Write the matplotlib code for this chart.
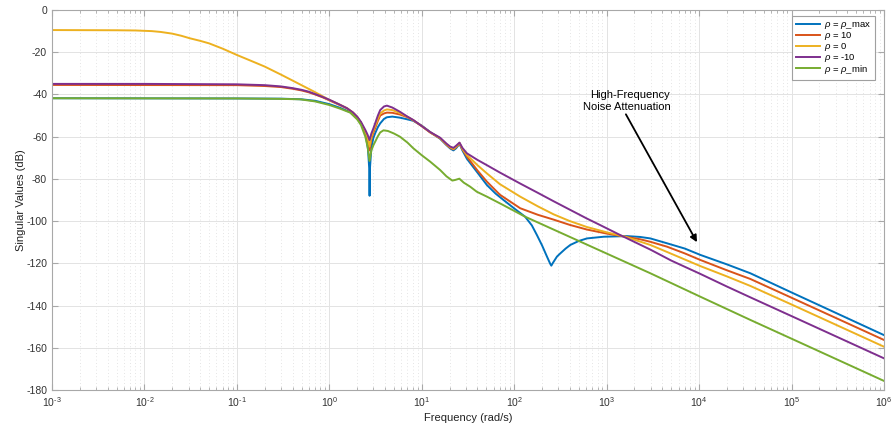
import numpy as np
import matplotlib.pyplot as plt
from matplotlib.ticker import FixedLocator, FixedFormatter, LogLocator, NullFormatter

plt.rcParams['font.family'] = ['Liberation Sans', 'DejaVu Sans']
plt.rcParams['mathtext.fontset'] = 'custom'
plt.rcParams['mathtext.rm'] = 'Liberation Sans'
plt.rcParams['mathtext.it'] = 'Liberation Sans:italic'
plt.rcParams['axes.unicode_minus'] = False

# singular value traces (rad/s, dB) for each scheduling parameter value
w_max = [1e-3, 0.1, 0.3, 0.5, 0.7, 1.0, 1.3, 1.68, 2.0, 2.2, 2.45, 2.62, 2.70, 2.725, 2.75, 2.85, 3.0,
         3.13, 3.35, 3.55, 3.9, 4.2, 4.8, 5.8, 7.0, 8.1, 10, 12.3, 15.8, 18.5, 20.3, 22.0, 23.5,
         25.6, 27.5, 30.8, 40, 50.6, 63, 76.6, 100, 131, 155, 176, 200, 226, 245, 252, 262, 290,
         315, 360, 404, 500, 612, 927, 1660, 2300, 2966, 4490, 7000, 1.03e4, 2e4, 3.58e4, 1e5, 1e6]
db_max = [-41.8, -41.9, -42.0, -42.3, -43.0, -44.6, -46.3, -48.4, -51.0, -53.5, -58.0, -66.0, -75.0, -88.0, -75.0, -65.0, -60.5,
          -58.4, -55.5, -53.7, -51.6, -50.8, -50.5, -51.0, -51.8, -52.5, -54.8, -57.8, -61.0, -64.0, -65.6, -66.5, -65.5,
          -63.4, -66.5, -70.5, -77.0, -82.9, -87.0, -90.0, -94.0, -97.9, -102.0, -106.6, -111.5, -116.8, -120.2, -121.1, -119.8, -116.8,
          -115.3, -113.0, -111.3, -109.4, -108.2, -107.4, -107.1, -107.5, -108.2, -110.5, -113.0, -116.0, -120.5, -124.7, -133.8, -154.0]

w_p10 = [1e-3, 0.1, 0.2, 0.3, 0.4, 0.5, 0.6, 0.7, 0.85, 1.0, 1.25, 1.55, 1.8, 2.0, 2.2, 2.45, 2.6, 2.72,
         2.85, 3.0, 3.13, 3.35, 3.55, 3.9, 4.2, 4.8, 5.8, 7.0, 8.1, 10, 12.3, 15.8, 18.5, 20.3, 22.0,
         23.5, 25.6, 27.5, 30.8, 40, 50.6, 70, 116, 180, 267, 400, 612, 1000, 1590, 2300, 2970, 4490, 7000,
         1.03e4, 2e4, 3.58e4, 1e5, 1e6]
db_p10 = [-35.5, -35.6, -36.0, -36.5, -37.3, -38.1, -39.0, -40.0, -41.4, -42.8, -44.7, -46.6, -48.7, -50.8, -53.5, -58.0, -61.5, -66.5,
          -61.0, -58.0, -56.0, -52.5, -50.0, -49.0, -48.6, -48.7, -49.5, -50.8, -52.3, -55.0, -58.0, -60.8, -63.8, -65.3, -66.0,
          -65.0, -63.2, -66.0, -69.5, -76.0, -81.3, -87.5, -93.9, -97.0, -99.3, -101.8, -104.0, -105.9, -107.4, -108.6, -109.8, -112.1, -115.3,
          -118.4, -123.3, -127.4, -136.3, -156.3]

w_0 = [1e-3, 0.005, 0.008, 0.012, 0.015, 0.02, 0.025, 0.031, 0.04, 0.05, 0.07, 0.1, 0.15, 0.2, 0.306, 0.5,
       0.7, 1.0, 1.25, 1.55, 1.8, 2.0, 2.2, 2.45, 2.6, 2.72, 2.85, 3.0, 3.13, 3.35, 3.55, 3.9, 4.2, 4.8,
       5.8, 7.0, 8.1, 10, 12.3, 15.8, 18.5, 20.3, 22.0, 23.5, 25.6, 27.5, 30.8, 40, 50.6, 70, 116, 180,
       267, 400, 612, 1000, 1590, 2970, 4490, 1.03e4, 2e4, 3.58e4, 1e5, 1e6]
db_0 = [-9.5, -9.6, -9.7, -10.0, -10.4, -11.2, -12.2, -13.4, -14.6, -15.8, -18.3, -21.3, -24.5, -26.8, -30.8, -35.6,
        -38.9, -42.6, -44.5, -46.5, -48.6, -50.6, -53.3, -57.5, -60.5, -64.7, -60.0, -57.0, -55.0, -51.5, -49.0, -47.6, -47.1, -47.4,
        -48.8, -50.6, -52.2, -55.0, -57.9, -60.7, -63.6, -65.0, -65.8, -64.8, -63.0, -65.8, -68.7, -73.5, -77.4, -82.5, -88.4, -93.0,
        -96.8, -100.0, -102.8, -105.3, -107.4, -111.3, -114.6, -121.3, -126.2, -130.7, -139.5, -159.5]

w_m10 = [1e-3, 0.01, 0.1, 0.2, 0.3, 0.4, 0.5, 0.6, 0.7, 0.85, 1.0, 1.25, 1.55, 1.8, 2.0, 2.2, 2.45, 2.6,
         2.72, 2.85, 3.0, 3.13, 3.35, 3.55, 3.9, 4.2, 4.8, 5.8, 7.0, 8.1, 10, 12.3, 15.8, 18.5, 20.3,
         22.0, 23.5, 25.6, 27.5, 30.8, 40, 50.6, 70, 116, 180, 267, 400, 612, 853, 1400, 2970, 5000,
         1.03e4, 2e4, 3.58e4, 1e5, 1e6]
db_m10 = [-35.0, -35.0, -35.2, -35.6, -36.2, -37.0, -37.8, -38.7, -39.8, -41.2, -42.5, -44.5, -46.5, -48.5, -50.5, -53.0, -56.8, -59.2,
          -61.6, -58.5, -56.0, -53.7, -50.0, -47.4, -45.7, -45.3, -46.2, -48.2, -50.5, -52.1, -55.0, -57.8, -60.5, -63.3, -64.7,
          -65.3, -64.3, -62.8, -65.3, -67.9, -71.0, -73.5, -77.0, -82.2, -86.6, -90.6, -94.6, -98.8, -101.9, -106.6, -113.5, -118.7,
          -125.0, -131.0, -136.1, -145.0, -165.0]

w_min = [1e-3, 0.1, 0.3, 0.48, 0.7, 1.0, 1.3, 1.68, 2.0, 2.2, 2.45, 2.6, 2.72, 2.85, 3.0, 3.13, 3.35, 3.55,
         3.85, 4.3, 5.0, 5.8, 7.0, 8.1, 10, 12.3, 15.8, 18.5, 21.4, 23.0, 25.5, 28.5, 33.4, 39.4, 50.6,
         76.0, 131, 853, 2966, 1.03e4, 3.58e4, 1e5, 1e6]
db_min = [-41.8, -41.9, -42.1, -42.3, -43.3, -45.0, -46.7, -48.6, -51.8, -54.5, -60.0, -65.0, -71.5, -66.5, -64.0, -62.4, -59.8, -58.0,
          -57.0, -57.3, -58.5, -60.0, -62.8, -65.5, -68.8, -71.8, -75.8, -78.8, -80.8, -80.5, -79.9, -81.8, -83.7, -86.1, -88.4,
          -92.4, -97.9, -114.0, -124.7, -135.8, -146.8, -155.7, -175.7]

labels = [r'$\rho$ = $\rho$_max', r'$\rho$ = 10', r'$\rho$ = 0', r'$\rho$ = -10', r'$\rho$ = $\rho$_min']
colors = ['#0072BD', '#D95319', '#EDB120', '#7E2F8E', '#77AC30']
series = [(w_max, db_max), (w_p10, db_p10), (w_0, db_0), (w_m10, db_m10), (w_min, db_min)]

decades = np.arange(-3, 7)
xtick_labels = [r'$10^{\text{%d}}$' % d for d in decades]
ytick_values = np.arange(-180, 1, 20)

fig = plt.figure(figsize=(8.93, 4.28), dpi=100)
ax = fig.add_axes([52 / 893, 1 - 390 / 428, 832 / 893, 380 / 428])

for (w, db), c, lab in zip(series, colors, labels):
    ax.semilogx(w, db, color=c, lw=1.4, label=lab)

ax.set_xlim(1e-3, 1e6)
ax.set_ylim(-180, 0)
ax.xaxis.set_major_locator(FixedLocator(10.0 ** decades))
ax.xaxis.set_major_formatter(FixedFormatter(xtick_labels))
ax.xaxis.set_minor_locator(LogLocator(base=10, subs=np.arange(2, 10), numticks=20))
ax.xaxis.set_minor_formatter(NullFormatter())
ax.yaxis.set_major_locator(FixedLocator(ytick_values))

ax.grid(True, which='major', color='#e3e3e3', lw=0.7, ls='-')
ax.grid(True, which='minor', axis='x', color='#dcdcdc', lw=0.6, ls=(0, (1, 3)))
ax.set_axisbelow(True)

for s in ax.spines.values():
    s.set_color('#a8a8a8')
    s.set_linewidth(0.8)
ax.tick_params(which='both', direction='in', top=True, right=True, colors='#a8a8a8',
               labelcolor='#333333', labelsize=7.5)
ax.tick_params(which='major', length=4)
ax.tick_params(which='minor', length=2.5)

ax.set_xlabel('Frequency (rad/s)', fontsize=8, color='#222222', labelpad=3)
ax.set_ylabel('Singular Values (dB)', fontsize=8, color='#222222')
ax.yaxis.set_label_coords(-0.031, 0.5)

leg = ax.legend(loc='upper right', fontsize=6.8, handlelength=2.5, fancybox=False,
                framealpha=1, edgecolor='#a0a0a0', borderpad=0.45, labelspacing=-0.12,
                handletextpad=0.4, borderaxespad=0, bbox_to_anchor=(0.989, 0.984))
leg.get_frame().set_linewidth(0.8)

# annotation text plus a separate arrow pointing at the high-frequency roll-off
ax.text(4875, -43.1, 'High-Frequency\nNoise Attenuation', ha='right', va='center',
        fontsize=8, multialignment='right', linespacing=1.35)
ax.annotate('', xy=(9480, -110.0), xytext=(1614, -49.4),
            arrowprops=dict(arrowstyle='-|>', color='k', lw=1.3, mutation_scale=10,
                            shrinkA=0, shrinkB=0))

fig.savefig('out.png', dpi=100)
